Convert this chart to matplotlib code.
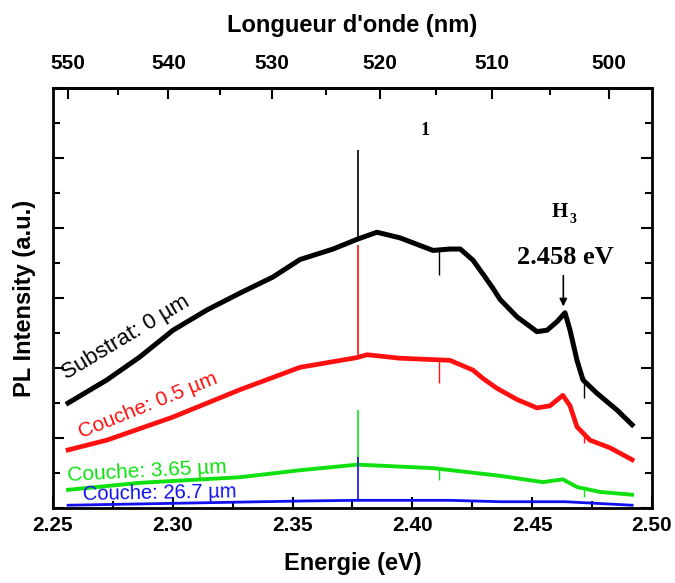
import numpy as np
import matplotlib
matplotlib.use("Agg")
import matplotlib.pyplot as plt
from matplotlib.ticker import MultipleLocator

# spectres PL (energie en eV, intensite en u.a.)
energie_substrat = [2.2563, 2.2725, 2.2863, 2.3001, 2.3143, 2.3280, 2.3418, 2.3531, 2.3669,
                    2.3770, 2.3852, 2.3948, 2.4086, 2.4157, 2.4200, 2.4253, 2.4295, 2.4336,
                    2.4366, 2.4437, 2.4520, 2.4562, 2.4603, 2.4637, 2.4658, 2.4687, 2.4712,
                    2.4770, 2.4854, 2.4917]
pl_substrat = [1.50, 1.83, 2.16, 2.54, 2.83, 3.07, 3.30, 3.55, 3.70,
               3.84, 3.94, 3.86, 3.68, 3.70, 3.70, 3.54, 3.34, 3.14,
               2.98, 2.73, 2.52, 2.54, 2.66, 2.79, 2.54, 2.11, 1.83,
               1.64, 1.40, 1.19]

energie_05 = [2.2563, 2.2725, 2.3001, 2.3280, 2.3531, 2.3770, 2.3811, 2.3948, 2.4157, 2.4253,
              2.4295, 2.4353, 2.4437, 2.4520, 2.4574, 2.4628, 2.4658, 2.4687, 2.4741,
              2.4825, 2.4917]
pl_05 = [0.83, 0.97, 1.30, 1.69, 2.01, 2.15, 2.19, 2.14, 2.11, 1.97,
         1.85, 1.71, 1.55, 1.43, 1.46, 1.61, 1.46, 1.16, 0.97,
         0.86, 0.69]

energie_365 = [2.2563, 2.2863, 2.3280, 2.3531, 2.3770, 2.4086, 2.4366, 2.4545, 2.4628,
               2.4687, 2.4783, 2.4917]
pl_365 = [0.26, 0.36, 0.44, 0.54, 0.62, 0.57, 0.46, 0.37, 0.41,
          0.30, 0.23, 0.19]

energie_267 = [2.2563, 2.3531, 2.3770, 2.4157, 2.4366, 2.4637, 2.4917]
pl_267 = [0.04, 0.10, 0.11, 0.11, 0.09, 0.09, 0.04]

# raie fine a 2.377 eV (base, sommet) pour chaque couche
raie_energie = 2.3773
raie_base = [3.84, 2.15, 0.62, 0.11]
raie_sommet = [5.11, 3.76, 1.40, 0.73]

# petits creux de bruit
creux_energie = [2.411, 2.4715]
creux_haut = [[3.68, 1.87], [2.11, 1.07], [0.59, 0.26]]
creux_bas = [[3.33, 1.57], [1.79, 0.93], [0.40, 0.16]]

noms = ["Substrat: 0 µm", "Couche: 0.5 µm", "Couche: 3.65 µm", "Couche: 26.7 µm"]
couleurs = ["black", "#ff1010", "#10e010", "#1010ee"]

tick_ev = [2.25, 2.30, 2.35, 2.40, 2.45, 2.50]
tick_nm = [550, 540, 530, 520, 510, 500]
hc = 1241.0  # eV.nm

energies = [energie_substrat, energie_05, energie_365, energie_267]
intensites = [pl_substrat, pl_05, pl_365, pl_267]

fig = plt.figure(figsize=(6.75, 5.83), dpi=100)
ax = fig.add_axes([0.0785, 0.1286, 0.8874, 0.7204])

largeurs = [3.6, 3.4, 2.8, 2.0]
for e, i, c, lw in zip(energies, intensites, couleurs, largeurs):
    ax.plot(e, i, color=c, lw=lw, solid_joinstyle="round")

for k in range(4):
    ax.vlines(raie_energie, raie_base[k], raie_sommet[k], color=couleurs[k], lw=1.2)
for k in range(3):
    ax.vlines(creux_energie, creux_bas[k], creux_haut[k], color=couleurs[k], lw=1.0)

# etiquettes des courbes
ax.text(2.2558, 1.83, noms[0], color=couleurs[0], fontsize=16, rotation=31,
        rotation_mode="anchor", ha="left", va="baseline", family="Liberation Sans")
ax.text(2.2618, 1.00, noms[1], color=couleurs[1], fontsize=15, rotation=22,
        rotation_mode="anchor", ha="left", va="baseline", family="Liberation Sans")
ax.text(2.2563, 0.38, noms[2], color=couleurs[2], fontsize=15, rotation=3,
        rotation_mode="anchor", ha="left", va="baseline", family="Liberation Sans")
ax.text(2.2625, 0.12, noms[3], color=couleurs[3], fontsize=14.5, rotation=1,
        rotation_mode="anchor", ha="left", va="baseline", family="Liberation Sans")

# annotation H3
ax.text(2.4615, 4.16, "H", fontsize=15, fontweight="bold", family="Liberation Serif",
        ha="center", va="baseline")
ax.text(2.4672, 4.07, "3", fontsize=10, fontweight="bold", family="Liberation Serif",
        ha="center", va="baseline")
ax.text(2.4638, 3.49, "2.458 eV", fontsize=19, fontweight="bold", family="Liberation Serif",
        ha="center", va="baseline")
ax.annotate("", xy=(2.4630, 2.88), xytext=(2.4630, 3.32),
            arrowprops=dict(arrowstyle="-|>", color="black", lw=1.2,
                            mutation_scale=11, shrinkA=0, shrinkB=0))
ax.text(2.4053, 5.39, "1", fontsize=13, fontweight="bold", family="Liberation Serif",
        ha="center", va="center")

ax.set_xlim(2.25, 2.50)
ax.set_ylim(0, 6)
ax.set_xticks(tick_ev)
ax.set_xticklabels([f"{t:.2f}" for t in tick_ev])
ax.xaxis.set_minor_locator(MultipleLocator(0.025))
ax.yaxis.set_major_locator(MultipleLocator(1))
ax.yaxis.set_minor_locator(MultipleLocator(0.5))
ax.tick_params(axis="x", which="both", direction="in", top=False, labelsize=15, pad=6)
ax.tick_params(axis="y", which="both", direction="in", left=True, right=True, labelleft=False)
ax.tick_params(which="major", length=8, width=1.5)
ax.tick_params(which="minor", length=5, width=1.5)
for lab in ax.get_xticklabels():
    lab.set_fontweight("bold")
    lab.set_family("Liberation Sans")
for s in ax.spines.values():
    s.set_linewidth(2)

ax.set_xlabel("Energie (eV)", fontsize=17, fontweight="bold", family="Liberation Sans", labelpad=12)
ax.set_ylabel("PL Intensity (a.u.)", fontsize=17, fontweight="bold", family="Liberation Sans", labelpad=12)

# axe du haut en longueur d'onde
sec = ax.secondary_xaxis("top", functions=(lambda e: hc / np.asarray(e, dtype=float),
                                           lambda l: hc / np.asarray(l, dtype=float)))
sec.set_xticks(tick_nm)
sec.set_xticklabels([str(t) for t in tick_nm])
sec.xaxis.set_minor_locator(MultipleLocator(5))
sec.tick_params(which="both", direction="in", labelsize=15, pad=11)
sec.tick_params(which="major", length=8, width=1.5)
sec.tick_params(which="minor", length=5, width=1.5)
for lab in sec.get_xticklabels():
    lab.set_fontweight("bold")
    lab.set_family("Liberation Sans")
sec.spines["top"].set_linewidth(2)
sec.set_xlabel("Longueur d'onde (nm)", fontsize=17, fontweight="bold", family="Liberation Sans", labelpad=16)

fig.savefig("out.png", dpi=100)
